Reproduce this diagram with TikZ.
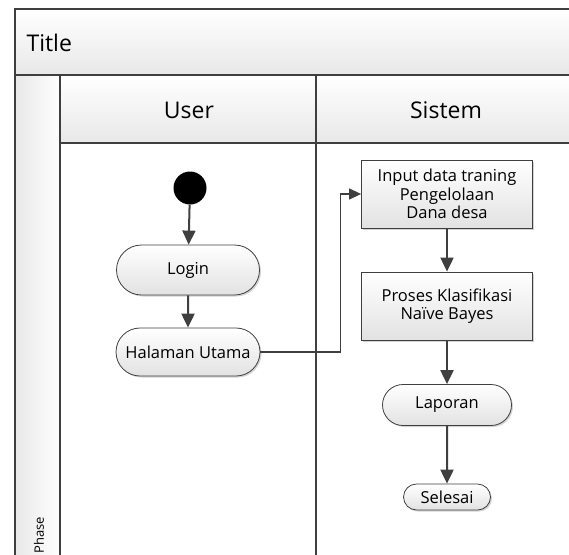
\documentclass[tikz,border=0pt]{standalone}
\usepackage{fontspec}
\setmainfont{Open Sans}
\usetikzlibrary{positioning,arrows.meta,shapes.misc,shadows}

\definecolor{lineGray}{HTML}{3F3F3F}
\definecolor{bandGray}{HTML}{E8E8E8}
\definecolor{nodeGray}{HTML}{E2E2E2}

\tikzset{
  lane/.style={draw=lineGray, line width=1.1pt},
  band/.style={lane, top color=white, bottom color=bandGray},
  head/.style={font=\fontsize{23}{26}\selectfont},
  act/.style={draw=lineGray, line width=0.8pt, top color=white, bottom color=nodeGray,
    drop shadow={shadow xshift=1.5pt, shadow yshift=-1.5pt, opacity=0.35},
    font=\fontsize{16.5}{18.5}\selectfont, align=center},
  roundact/.style={act, rounded rectangle, inner sep=0pt},
  boxact/.style={act, rectangle, minimum width=171pt, minimum height=68pt},
  flow/.style={draw=lineGray, line width=2pt, -{Triangle[length=14pt, width=13pt]}},
  link/.style={draw=lineGray, line width=1.2pt, -{Triangle[length=12pt, width=11pt]}}
}

\begin{document}
\begin{tikzpicture}[x=1pt, y=-1pt]
	\useasboundingbox (0,0) rectangle (569,554);
	\clip (0,0) rectangle (569,554);
	% swimlane frame
	\draw[band] (15,9) rectangle (580,75);
	\node[head, anchor=west] (title) at (23,43) {Title};
	\draw[lane, left color=bandGray, right color=white] (15,75) rectangle (60,570);
	\node[rotate=90, anchor=west, font=\fontsize{13}{15}\selectfont] (phase) at (39,557) {Phase};
	\draw[band] (60,75) rectangle (316,143);
	\draw[band] (316,75) rectangle (580,143);
	\draw[lane] (60,143) rectangle (316,570);
	\draw[lane] (316,143) rectangle (580,570);
	\node[head] (user) at (189,110) {User};
	\node[head] (sistem) at (446,110) {Sistem};

	% User lane
	\node[circle, fill=black, minimum size=33pt, inner sep=0pt] (start) at (190,188) {};
	\node[roundact, minimum width=143pt, minimum height=50pt] (login) at (188,270) {Login};
	\node[roundact, minimum width=144pt, minimum height=48pt] (utama) at (188,352) {Halaman Utama};

	% Sistem lane
	\node[boxact] (input) at (447,194) {Input data traning\\Pengelolaan\\Dana desa};
	\node[boxact] (proses) at (447,306) {Proses Klasifikasi\\Naïve Bayes};
	\node[roundact, minimum width=129pt, minimum height=41pt] (laporan) at (447,405) {Laporan};
	\node[roundact, minimum width=87pt, minimum height=26pt] (selesai) at (447,497) {Selesai};

	% connectors
	\draw[flow] (start) -- (login);
	\draw[flow] (login) -- (utama);
	\draw[link] (utama.east) -- ++(80,0) coordinate (turn) |- (input.west);
	\draw[flow] (input) -- (proses);
	\draw[flow] (proses) -- (laporan);
	\draw[flow] (laporan) -- (selesai);
\end{tikzpicture}
\end{document}
